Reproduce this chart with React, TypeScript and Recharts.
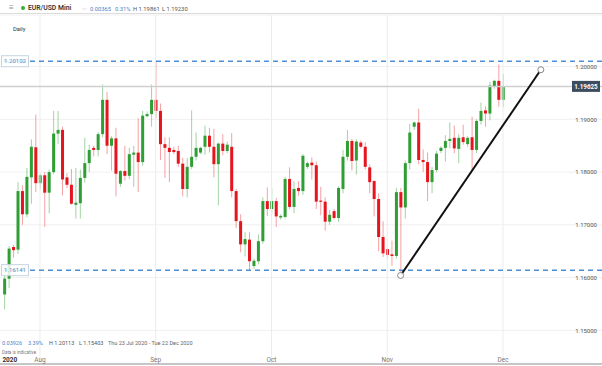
import { ComposedChart, Bar, XAxis, YAxis, CartesianGrid, ReferenceLine, ReferenceDot } from 'recharts'

// daily candles, Sundays included (IG style)
const dates = [
  '23 Jul', '24 Jul', '26 Jul', '27 Jul', '28 Jul', '29 Jul', '30 Jul', '31 Jul',
  '2 Aug', '3 Aug', '4 Aug', '5 Aug', '6 Aug', '7 Aug', '9 Aug', '10 Aug', '11 Aug', '12 Aug', '13 Aug',
  '14 Aug', '16 Aug', '17 Aug', '18 Aug', '19 Aug', '20 Aug', '21 Aug', '23 Aug', '24 Aug', '25 Aug',
  '26 Aug', '27 Aug', '28 Aug', '30 Aug', '31 Aug',
  '1 Sep', '2 Sep', '3 Sep', '4 Sep', '6 Sep', '7 Sep', '8 Sep', '9 Sep', '10 Sep', '11 Sep', '13 Sep',
  '14 Sep', '15 Sep', '16 Sep', '17 Sep', '18 Sep', '20 Sep', '21 Sep', '22 Sep', '23 Sep', '24 Sep',
  '25 Sep', '27 Sep', '28 Sep', '29 Sep', '30 Sep',
  '1 Oct', '2 Oct', '4 Oct', '5 Oct', '6 Oct', '7 Oct', '8 Oct', '9 Oct', '11 Oct', '12 Oct', '13 Oct',
  '14 Oct', '15 Oct', '16 Oct', '18 Oct', '19 Oct', '20 Oct', '21 Oct', '22 Oct', '23 Oct', '25 Oct',
  '26 Oct', '27 Oct', '28 Oct', '29 Oct', '30 Oct',
  '1 Nov', '2 Nov', '3 Nov', '4 Nov', '5 Nov', '6 Nov', '8 Nov', '9 Nov', '10 Nov', '11 Nov', '12 Nov',
  '13 Nov', '15 Nov', '16 Nov', '17 Nov', '18 Nov', '19 Nov', '20 Nov', '22 Nov', '23 Nov', '24 Nov',
  '25 Nov', '26 Nov', '27 Nov', '29 Nov', '30 Nov',
  '1 Dec',
]

const opens = [
  1.1568, 1.1598, 1.1658, 1.1653, 1.1764, 1.172, 1.179, 1.1847,
  1.1779, 1.1794, 1.1761, 1.18, 1.1873, 1.188, 1.179, 1.1776, 1.1738, 1.1741, 1.1789,
  1.1817, 1.1846, 1.1842, 1.1872, 1.1937, 1.185, 1.1864, 1.1778, 1.1802, 1.1793,
  1.1833, 1.1837, 1.1819, 1.1906, 1.191,
  1.1937, 1.1916, 1.1853, 1.1846, 1.1842, 1.184, 1.1816, 1.1768, 1.181, 1.1829, 1.1837,
  1.1848, 1.1869, 1.1848, 1.1815, 1.1854, 1.184, 1.1848, 1.1764, 1.1707, 1.1663,
  1.1672, 1.1622, 1.1631, 1.1669, 1.1745,
  1.173, 1.1745, 1.1714, 1.1715, 1.1787, 1.1734, 1.177, 1.1764, 1.181, 1.1818, 1.1813,
  1.1746, 1.1744, 1.1706, 1.1726, 1.1713, 1.1768, 1.1829, 1.1859, 1.1822, 1.1856,
  1.1848, 1.1809, 1.1783, 1.1749, 1.1677,
  1.1654, 1.1644, 1.1641, 1.1762, 1.1733, 1.1817, 1.1886, 1.1894, 1.1823, 1.1819, 1.1781,
  1.1804, 1.184, 1.1846, 1.1859, 1.1865, 1.1844, 1.1866, 1.1853, 1.1866, 1.1842,
  1.1897, 1.1917, 1.1911, 1.1962, 1.1973,
  1.1937,
]

const highs = [
  1.1622, 1.166, 1.1662, 1.1781, 1.1775, 1.1808, 1.1862, 1.1909,
  1.1797, 1.18, 1.1805, 1.1916, 1.1916, 1.1886, 1.1798, 1.1806, 1.1808, 1.1805, 1.1865,
  1.1852, 1.185, 1.1876, 1.1966, 1.1952, 1.1868, 1.1884, 1.1804, 1.185, 1.1846,
  1.185, 1.1902, 1.1916, 1.1915, 1.1966,
  1.2011, 1.193, 1.1866, 1.1866, 1.1848, 1.185, 1.1827, 1.1827, 1.1917, 1.1875, 1.1848,
  1.1888, 1.1884, 1.1882, 1.1856, 1.1872, 1.1858, 1.1874, 1.1768, 1.172, 1.1686,
  1.1686, 1.1636, 1.1682, 1.1752, 1.1771,
  1.177, 1.1751, 1.172, 1.1791, 1.1809, 1.1783, 1.1783, 1.1834, 1.182, 1.1828, 1.182,
  1.1772, 1.1752, 1.1728, 1.173, 1.1773, 1.1842, 1.188, 1.1863, 1.1862, 1.186,
  1.1857, 1.1815, 1.1785, 1.176, 1.1707,
  1.1656, 1.167, 1.177, 1.177, 1.1822, 1.1891, 1.1896, 1.192, 1.1843, 1.1837, 1.181,
  1.184, 1.1849, 1.187, 1.1894, 1.1888, 1.1872, 1.189, 1.1868, 1.1905, 1.19,
  1.1932, 1.1925, 1.1971, 1.1975, 1.2004,
  1.1986,
]

const lows = [
  1.154, 1.158, 1.1638, 1.1645, 1.17, 1.1714, 1.174, 1.1762,
  1.1768, 1.1696, 1.1722, 1.1796, 1.1853, 1.1756, 1.177, 1.1738, 1.1712, 1.1712, 1.178,
  1.18, 1.183, 1.183, 1.1866, 1.1834, 1.1803, 1.1754, 1.1772, 1.1784, 1.1787,
  1.1772, 1.1762, 1.1812, 1.1904, 1.1886,
  1.1902, 1.1823, 1.1789, 1.1781, 1.1834, 1.181, 1.1754, 1.1752, 1.1806, 1.1822, 1.1834,
  1.1833, 1.1837, 1.179, 1.1737, 1.1832, 1.1836, 1.1752, 1.1694, 1.1648, 1.164,
  1.1614, 1.1616, 1.1625, 1.1664, 1.1717,
  1.172, 1.1696, 1.171, 1.1712, 1.173, 1.1722, 1.1755, 1.1757, 1.1806, 1.1786, 1.173,
  1.1718, 1.1689, 1.17, 1.171, 1.1706, 1.176, 1.1822, 1.1803, 1.1795, 1.1845,
  1.1805, 1.176, 1.1716, 1.165, 1.1639,
  1.1636, 1.1622, 1.1636, 1.1603, 1.1712, 1.1805, 1.188, 1.1815, 1.18, 1.1745, 1.176,
  1.18, 1.1836, 1.182, 1.1845, 1.1836, 1.1817, 1.1852, 1.1848, 1.1802, 1.1836,
  1.189, 1.1886, 1.1898, 1.1958, 1.1924,
  1.1923,
]

const closes = [
  1.1598, 1.1655, 1.1652, 1.1764, 1.172, 1.1791, 1.1848, 1.1779,
  1.1794, 1.1761, 1.18, 1.1873, 1.188, 1.1786, 1.1776, 1.174, 1.1742, 1.1789, 1.1817,
  1.1842, 1.1842, 1.1872, 1.1937, 1.185, 1.1864, 1.1797, 1.1802, 1.1793, 1.1834,
  1.1837, 1.1819, 1.1907, 1.191, 1.1937,
  1.1916, 1.1853, 1.1846, 1.1838, 1.1838, 1.1816, 1.1768, 1.181, 1.1829, 1.1846, 1.1846,
  1.1869, 1.1848, 1.1815, 1.1854, 1.184, 1.1852, 1.1764, 1.1707, 1.1663, 1.1673,
  1.1631, 1.1632, 1.1669, 1.1745, 1.173,
  1.1745, 1.1716, 1.1717, 1.1787, 1.1734, 1.1768, 1.1764, 1.1831, 1.1817, 1.1813, 1.1744,
  1.1744, 1.1706, 1.1719, 1.1713, 1.177, 1.1829, 1.1859, 1.1821, 1.1858, 1.1848,
  1.181, 1.1781, 1.1749, 1.1677, 1.1646,
  1.1643, 1.1641, 1.1762, 1.1733, 1.1817, 1.1875, 1.1894, 1.1823, 1.1819, 1.1781, 1.1804,
  1.1835, 1.1846, 1.1859, 1.1863, 1.1845, 1.1865, 1.1857, 1.1865, 1.1842, 1.1897,
  1.1916, 1.1911, 1.1964, 1.1973, 1.1937,
  1.19625,
]

const monthTicks = [0, 8, 34, 60, 86, 112]
const monthLabels = ['2020', 'Aug', 'Sep', 'Oct', 'Nov', 'Dec']
const priceTicks = [1.15, 1.16, 1.17, 1.18, 1.19, 1.2]

const resistance = 1.20102
const support = 1.16141
const lastPrice = 1.19625
const trendFrom = { x: 89, y: 1.1604 }
const trendTo = { x: 120.5, y: 1.1994 }

const UP = '#2f9e34'
const DOWN = '#e5141d'
const UP_WICK = 'rgba(47,158,52,0.45)'
const DOWN_WICK = 'rgba(229,20,29,0.4)'
const BLUE = '#4a8fd6'
const FONT = 'Roboto, "Noto Sans", sans-serif'

const data = dates.map((d, i) => ({
  i,
  date: d,
  open: opens[i],
  high: highs[i],
  low: lows[i],
  close: closes[i],
  range: [lows[i], highs[i]],
}))

function Candle(props: any) {
  const { x, y, width, height, payload } = props
  const top = height < 0 ? y + height : y
  const h = Math.abs(height)
  const { open, close, high, low } = payload
  const up = close >= open
  const k = high === low ? 0 : h / (high - low)
  const bodyTop = top + (high - Math.max(open, close)) * k
  const bodyH = Math.max(1.2, Math.abs(close - open) * k)
  const cx = x + width / 2
  return (
    <g>
      <line x1={cx} x2={cx} y1={top} y2={top + h} stroke={up ? UP_WICK : DOWN_WICK} strokeWidth={1} />
      <rect x={x} y={bodyTop} width={width} height={bodyH} fill={up ? UP : DOWN} />
    </g>
  )
}

function MonthTick({ x, y, payload }: any) {
  const idx = monthTicks.indexOf(payload.value)
  const label = monthLabels[idx]
  if (idx === 0) {
    return (
      <text x={x - 2} y={y - 2} textAnchor="start" fontSize={6.5} fontWeight={700} fill="#333" fontFamily={FONT}>
        {label}
      </text>
    )
  }
  return (
    <text x={x} y={y - 2} textAnchor="middle" fontSize={6.5} fill="#777" fontFamily={FONT}>
      {label}
    </text>
  )
}

function PriceTick({ y, payload }: any) {
  return (
    <text x={597} y={y} dy={2.2} textAnchor="end" fontSize={6} fill="#555" fontFamily={FONT}>
      {Number(payload.value).toFixed(5)}
    </text>
  )
}

function LevelTag({ viewBox, value }: any) {
  const y = viewBox.y
  return (
    <g>
      <rect x={1.5} y={y - 5.5} width={27} height={11} fill="rgba(255,255,255,0.85)" stroke="#c9d4df" strokeWidth={1} />
      <text x={15} y={y + 2.2} textAnchor="middle" fontSize={6} fill="#5d8cbf" fontFamily={FONT}>
        {value}
      </text>
    </g>
  )
}

function LastTag({ viewBox, value }: any) {
  const right = viewBox.x + viewBox.width
  const y = viewBox.y
  return (
    <g>
      <rect x={right - 30} y={y - 5.5} width={28} height={11} fill="#3c4b5d" />
      <text x={right - 16} y={y + 2.3} textAnchor="middle" fontSize={6.3} fontWeight={700} fill="#fff" fontFamily={FONT}>
        {value}
      </text>
    </g>
  )
}

const txt = (left: number, top: number, size: number, color: string, weight = 400) => ({
  position: 'absolute' as const,
  left,
  top,
  fontSize: size,
  lineHeight: '10px',
  color,
  fontWeight: weight,
  whiteSpace: 'nowrap' as const,
  fontFamily: FONT,
})

export default function App() {
  return (
    <div style={{ position: 'absolute', left: 0, top: 0, width: 602, height: 366, background: '#fff', overflow: 'hidden' }}>
      <ComposedChart width={602} height={366} data={data} margin={{ top: 15, right: 0, bottom: 0, left: 0 }}>
        <CartesianGrid vertical={false} stroke="#f0f0f0" />
        <XAxis
          dataKey="i"
          type="number"
          domain={[-0.984, 134.24]}
          allowDataOverflow
          ticks={monthTicks}
          interval={0}
          height={2}
          tickLine={false}
          tickSize={0}
          tickMargin={0}
          axisLine={{ stroke: '#c6c6c6', strokeWidth: 2 }}
          tick={<MonthTick />}
        />
        <YAxis
          orientation="right"
          mirror
          width={40}
          domain={[1.143621, 1.209782]}
          allowDataOverflow
          ticks={priceTicks}
          interval={0}
          axisLine={false}
          tickLine={false}
          tick={<PriceTick />}
        />
        {monthTicks.slice(1).map((m) => (
          <ReferenceLine key={m} x={m} stroke="#ececec" strokeWidth={1} />
        ))}
        <ReferenceLine y={lastPrice} stroke="#cfcfcf" strokeWidth={1.5} label={<LastTag value={lastPrice.toFixed(5)} />} />
        <ReferenceLine y={resistance} stroke={BLUE} strokeWidth={1.5} strokeDasharray="5 4" label={<LevelTag value={resistance.toFixed(5)} />} />
        <ReferenceLine y={support} stroke={BLUE} strokeWidth={1.5} strokeDasharray="5 4" label={<LevelTag value={support.toFixed(5)} />} />
        <Bar dataKey="range" barSize={3} shape={<Candle />} isAnimationActive={false} />
        <ReferenceLine segment={[trendFrom, trendTo]} stroke="#111" strokeWidth={2} />
        <ReferenceDot x={trendFrom.x} y={trendFrom.y} r={3} fill="#fff" stroke="#888" strokeWidth={1} />
        <ReferenceDot x={trendTo.x} y={trendTo.y} r={3} fill="#fff" stroke="#888" strokeWidth={1} />
      </ComposedChart>

      {/* header bar */}
      <div style={{ position: 'absolute', left: 0, top: 0, width: 602, height: 13, background: '#fff', borderBottom: '1px solid #dcdcdc' }} />
      <span style={txt(9, 3, 8, '#888')}>≡</span>
      <span style={{ position: 'absolute', left: 21, top: 6, width: 4, height: 4, borderRadius: 2, background: '#2db52d' }} />
      <span style={txt(28, 3, 6.8, '#333', 600)}>EUR/USD Mini</span>
      <span style={txt(82, 2.5, 6, '#999')}>⌵</span>
      <span style={txt(90, 3.5, 5.8, '#4a86c5')}>0.00365</span>
      <span style={txt(115, 3.5, 5.8, '#4a86c5')}>0.31%</span>
      <span style={txt(133, 3.5, 5.8, '#555')}>H 1.19861</span>
      <span style={txt(162, 3.5, 5.8, '#555')}>L 1.19230</span>

      <span style={txt(13, 24, 5.8, '#333')}>Daily</span>

      {/* footer info */}
      <span style={txt(2, 338, 5.5, '#4a86c5')}>0.03926</span>
      <span style={txt(28, 338, 5.5, '#4a86c5')}>3.39%</span>
      <span style={txt(49, 338, 5.5, '#555')}>H 1.20113</span>
      <span style={txt(79, 338, 5.5, '#555')}>L 1.15403</span>
      <span style={txt(108, 338, 5.5, '#666')}>Thu 23 Jul 2020 - Tue 22 Dec 2020</span>
      <span style={txt(2, 347.5, 4.5, '#777')}>Data is indicative</span>
    </div>
  )
}
